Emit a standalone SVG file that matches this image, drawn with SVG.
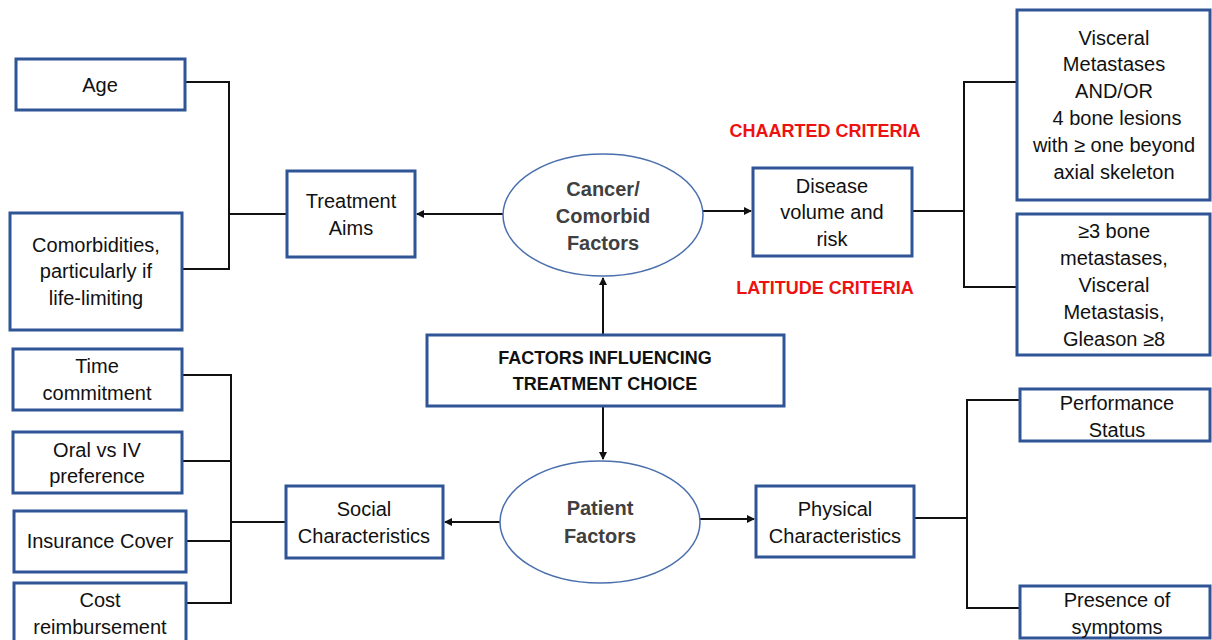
<svg xmlns="http://www.w3.org/2000/svg" width="1212" height="640" viewBox="0 0 1212 640">
<style>
.box{fill:#fff;stroke:#2F5597;stroke-width:3}
.ell{fill:#fff;stroke:#4A6FAD;stroke-width:1.5}
.t{font-family:"Liberation Sans",Arial,sans-serif;font-size:20px;fill:#111;text-anchor:middle}
.b{font-family:"Liberation Sans",Arial,sans-serif;font-size:18px;font-weight:bold;fill:#111;text-anchor:middle}
.g{font-family:"Liberation Sans",Arial,sans-serif;font-size:20px;font-weight:bold;fill:#404040;text-anchor:middle}
.r{font-family:"Liberation Sans",Arial,sans-serif;font-size:18px;font-weight:bold;fill:#EE1111;text-anchor:middle}
.c{fill:none;stroke:#111;stroke-width:2}
</style>
<defs>
<marker id="ah" markerWidth="8" markerHeight="8" refX="7" refY="4" orient="auto" markerUnits="userSpaceOnUse">
<path d="M0,0 L8,4 L0,8 Z" fill="#111"/>
</marker>
</defs>
<rect width="1212" height="640" fill="#fff"/>
<g id="connectors">
<polyline class="c" points="185,82 229,82 229,269 182,269"/>
<line class="c" x1="229" y1="214" x2="287" y2="214"/>
<line class="c" x1="503" y1="214" x2="417" y2="214" marker-end="url(#ah)"/>
<line class="c" x1="703" y1="211" x2="751" y2="211" marker-end="url(#ah)"/>
<line class="c" x1="912" y1="211" x2="964" y2="211"/>
<polyline class="c" points="1017,82 964,82 964,287 1017,287"/>
<line class="c" x1="603" y1="335" x2="603" y2="278" marker-end="url(#ah)"/>
<line class="c" x1="603" y1="406" x2="603" y2="459" marker-end="url(#ah)"/>
<line class="c" x1="500" y1="522" x2="445" y2="522" marker-end="url(#ah)"/>
<line class="c" x1="700" y1="519" x2="754" y2="519" marker-end="url(#ah)"/>
<polyline class="c" points="182,375 231,375 231,603 186,603"/>
<line class="c" x1="182" y1="461" x2="231" y2="461"/>
<line class="c" x1="186" y1="541" x2="231" y2="541"/>
<line class="c" x1="231" y1="522" x2="286" y2="522"/>
<line class="c" x1="914" y1="518" x2="967" y2="518"/>
<polyline class="c" points="1020,400 967,400 967,608 1020,608"/>
</g>
<g id="age"><rect class="box" x="16" y="59" width="169" height="51"/><text class="t" x="100" y="92">Age</text></g>
<g id="comorbidities"><rect class="box" x="10" y="213" width="172" height="117"/>
<text class="t" x="96" y="252">Comorbidities,</text><text class="t" x="96" y="278">particularly if</text><text class="t" x="96" y="305">life-limiting</text></g>
<g id="treatment-aims"><rect class="box" x="287" y="171" width="128" height="86"/>
<text class="t" x="351" y="208">Treatment</text><text class="t" x="351" y="235">Aims</text></g>
<g id="cancer-factors"><ellipse class="ell" cx="603" cy="215" rx="100" ry="61"/>
<text class="g" x="603" y="196">Cancer/</text><text class="g" x="603" y="223">Comorbid</text><text class="g" x="603" y="250">Factors</text></g>
<g id="disease-volume"><rect class="box" x="753" y="168" width="159" height="88"/>
<text class="t" x="832" y="193">Disease</text><text class="t" x="832" y="219">volume and</text><text class="t" x="832" y="246">risk</text></g>
<g id="chaarted"><text class="r" x="825" y="137">CHAARTED CRITERIA</text></g>
<g id="latitude"><text class="r" x="825" y="294">LATITUDE CRITERIA</text></g>
<g id="visceral"><rect class="box" x="1017" y="10" width="193" height="190"/>
<text class="t" x="1114" y="45">Visceral</text><text class="t" x="1114" y="71">Metastases</text><text class="t" x="1114" y="98">AND/OR</text><text class="t" x="1117" y="125">4 bone lesions</text><text class="t" x="1114" y="152">with ≥ one beyond</text><text class="t" x="1114" y="179">axial skeleton</text></g>
<g id="latitude-box"><rect class="box" x="1017" y="214" width="193" height="141"/>
<text class="t" x="1114" y="238">≥3 bone</text><text class="t" x="1114" y="265">metastases,</text><text class="t" x="1114" y="292">Visceral</text><text class="t" x="1114" y="319">Metastasis,</text><text class="t" x="1114" y="346">Gleason ≥8</text></g>
<g id="factors"><rect class="box" x="427" y="335" width="357" height="71"/>
<text class="b" x="605" y="364">FACTORS INFLUENCING</text><text class="b" x="605" y="390">TREATMENT CHOICE</text></g>
<g id="patient-factors"><ellipse class="ell" cx="600" cy="522" rx="100" ry="61"/>
<text class="g" x="600" y="515">Patient</text><text class="g" x="600" y="543">Factors</text></g>
<g id="social"><rect class="box" x="286" y="486" width="157" height="72"/>
<text class="t" x="364" y="516">Social</text><text class="t" x="364" y="543">Characteristics</text></g>
<g id="physical"><rect class="box" x="756" y="486" width="158" height="71"/>
<text class="t" x="835" y="516">Physical</text><text class="t" x="835" y="543">Characteristics</text></g>
<g id="time"><rect class="box" x="13" y="349" width="169" height="61"/>
<text class="t" x="97" y="373">Time</text><text class="t" x="97" y="400">commitment</text></g>
<g id="oral"><rect class="box" x="13" y="432" width="169" height="61"/>
<text class="t" x="97" y="457">Oral vs IV</text><text class="t" x="97" y="483">preference</text></g>
<g id="insurance"><rect class="box" x="14" y="511" width="172" height="61"/>
<text class="t" x="100" y="548">Insurance Cover</text></g>
<g id="cost"><rect class="box" x="14" y="583" width="172" height="70"/>
<text class="t" x="100" y="607">Cost</text><text class="t" x="100" y="634">reimbursement</text></g>
<g id="performance"><rect class="box" x="1020" y="389" width="190" height="52"/>
<text class="t" x="1117" y="410">Performance</text><text class="t" x="1117" y="437">Status</text></g>
<g id="symptoms"><rect class="box" x="1020" y="586" width="190" height="52"/>
<text class="t" x="1117" y="607">Presence of</text><text class="t" x="1117" y="634">symptoms</text></g>
</svg>
